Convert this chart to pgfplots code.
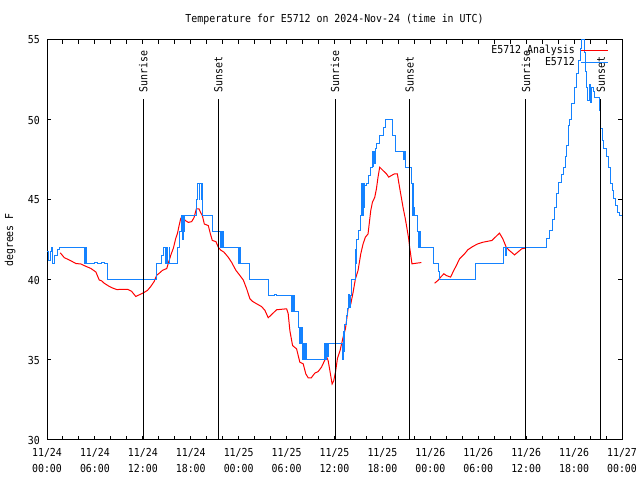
\documentclass[border=0pt]{standalone}
\usepackage{pgfplots}
\pgfplotsset{compat=1.18}
\usepackage{fontspec}
\newfontfamily\gp[FakeStretch=0.9]{DejaVu Sans Mono}
\newcommand\gpf{\gp\fontsize{11bp}{16bp}\selectfont}
\definecolor{obsblue}{RGB}{20,130,255}

\begin{document}
\begin{tikzpicture}
\path[use as bounding box] (0,0) rectangle (640bp,480bp);
\begin{axis}[
  at={(47bp,40bp)}, anchor=south west,
  scale only axis, width=575bp, height=400bp,
  xmin=0, xmax=72, ymin=30, ymax=55,
  xtick={0,6,...,72}, minor xtick={0,2,...,72},
  xticklabels={{11/24\\00:00},{11/24\\06:00},{11/24\\12:00},{11/24\\18:00},
    {11/25\\00:00},{11/25\\06:00},{11/25\\12:00},{11/25\\18:00},
    {11/26\\00:00},{11/26\\06:00},{11/26\\12:00},{11/26\\18:00},{11/27\\00:00}},
  ytick={30,35,...,55},
  major tick length=4bp, minor tick length=4bp,
  every tick/.style={black, line width=1bp},
  axis line style={line width=1bp},
  /pgf/number format/assume math mode=true,
  xticklabel style={align=center, font=\gpf, anchor=north, inner sep=0pt, yshift=-8bp},
  yticklabel style={font=\gpf, anchor=east, inner sep=0pt, xshift=-7bp},
  every axis title/.style={at={(axis description cs:0.5,1)}, anchor=center, yshift=21bp, font=\gpf},
  title={Temperature for E5712 on 2024-Nov-24 (time in UTC)},
  every axis y label/.style={at={(axis description cs:-0.0643,0.5)}, rotate=90, anchor=center, font=\gpf},
  ylabel={degrees F},
  legend style={at={(axis description cs:1,1)}, anchor=north east, xshift=-13bp, yshift=-4bp,
    draw=none, fill=none, font=\gpf, inner sep=0pt, row sep=0.5bp, column sep=5bp,
    nodes={inner sep=1bp}},
  legend cell align=right, legend plot pos=right,
]
% analysis (red)
\addplot[red, line width=1bp,
  legend image code/.code={\draw[red, line width=1bp] (0bp,0bp) -- (27bp,0bp);}]
  coordinates {(1.66,41.7) (2.16,41.4) (2.99,41.2) (3.62,41.03) (4.25,41.0) (4.66,40.9)
  (5.5,40.72) (6.12,40.5) (6.54,40.0) (6.83,39.95) (7.16,39.8) (7.79,39.6) (8.2,39.5)
  (8.75,39.4) (9.45,39.42) (10.08,39.42) (10.58,39.3) (11.12,38.97) (11.66,39.1)
  (12.08,39.2) (12.58,39.35) (13.0,39.6) (13.41,39.9) (13.74,40.3) (14.0,40.4)
  (14.45,40.6) (15.0,40.72) (15.16,41.0) (15.5,41.55) (15.83,42.0) (16.12,42.6)
  (16.33,42.9) (16.54,43.4) (16.75,43.86) (17.08,43.86) (17.37,43.7) (17.7,43.6)
  (18.12,43.65) (18.41,43.9) (18.7,44.44) (19.04,44.44) (19.25,44.2) (19.45,44.03)
  (19.7,43.5) (20.2,43.4) (20.45,42.9) (20.7,42.47) (21.15,42.4) (21.45,42.05)
  (21.75,41.87) (22.16,41.74) (22.7,41.42) (23.12,41.1) (23.66,40.6) (24.16,40.28)
  (24.58,40.0) (25.0,39.45) (25.41,38.82) (25.75,38.66) (26.25,38.51) (26.87,38.34)
  (27.29,38.1) (27.7,37.64) (28.12,37.84) (28.75,38.14) (30.0,38.2) (30.2,37.9)
  (30.41,36.84) (30.75,35.9) (31.25,35.7) (31.66,34.86) (32.08,34.76) (32.41,34.13)
  (32.7,33.89) (33.1,33.89) (33.54,34.18) (33.95,34.28) (34.37,34.55) (34.66,34.86)
  (35.0,35.2) (35.2,34.97) (35.4,34.4) (35.7,33.5) (35.9,33.7) (36.14,34.3)
  (36.37,35.1) (36.7,35.6) (37.08,36.43) (37.37,36.95) (37.7,38.2) (38.04,38.5)
  (38.33,39.24) (38.62,40.07) (38.95,40.6) (39.29,41.64) (39.58,42.26) (39.87,42.68)
  (40.2,42.88) (40.54,44.34) (40.75,44.86) (41.04,45.17) (41.25,45.7) (41.45,46.43)
  (41.66,47.05) (42.08,46.84) (42.5,46.64) (42.79,46.43) (43.12,46.53) (43.54,46.64)
  (43.87,46.64) (44.04,46.11) (44.29,45.38) (44.58,44.55) (44.87,43.82) (45.12,43.09)
  (45.29,42.57) (45.41,42.05) (45.7,41.01) (46.25,41.05) (46.87,41.09)};
\addlegendentry{E5712 Analysis}
\addplot[red, line width=1bp, forget plot]
  coordinates {(48.54,39.8) (48.95,39.97) (49.37,40.22) (49.7,40.39) (50.0,40.28)
  (50.54,40.18) (50.83,40.49) (51.25,40.9) (51.66,41.32) (52.29,41.64) (52.7,41.89)
  (53.33,42.1) (53.95,42.26) (54.58,42.36) (55.7,42.47) (56.66,42.93) (57.08,42.57)
  (57.5,42.05) (57.91,41.84) (58.54,41.57) (58.95,41.74) (59.45,41.95) (59.97,42.0)};
% observations (blue)
\addplot[obsblue, line width=1bp, const plot,
  legend image code/.code={\draw[obsblue, line width=1bp] (0bp,0bp) -- (27bp,0bp);}]
  coordinates {(0.0,41.8) (0.25,41.2) (0.45,41.8) (0.6,42.0) (0.75,41.0) (1.0,41.5)
  (1.3,41.9) (1.6,42.0) (4.75,41.0) (4.82,42.0) (4.9,41.0) (6.0,41.1) (6.3,41.0)
  (6.8,41.1) (7.2,41.0) (7.6,40.0) (13.7,41.0) (14.3,41.5) (14.55,42.0) (14.8,41.0)
  (14.95,42.0) (15.15,41.0) (15.3,42.0) (15.4,41.0) (16.3,42.0) (16.6,43.0) (16.8,44.0)
  (16.95,42.5) (17.05,44.0) (17.15,43.0) (17.25,44.0) (18.7,45.0) (18.9,46.0) (19.05,45.0)
  (19.15,46.0) (19.3,45.0) (19.35,46.0) (19.5,44.0) (20.75,43.0) (21.7,42.0) (21.8,43.0)
  (21.95,42.0) (22.05,43.0) (22.15,42.0) (24.0,41.0) (24.1,42.0) (24.2,41.0) (25.4,40.0)
  (27.7,39.0) (28.5,39.1) (28.7,39.0) (30.6,38.0) (30.7,39.0) (30.85,38.0) (30.95,39.0)
  (31.05,38.0) (31.5,37.0) (31.6,36.0) (31.7,37.0) (31.85,36.0) (31.95,37.0) (32.05,35.0)
  (32.15,36.0) (32.3,35.0) (32.35,36.0) (32.45,35.0) (34.8,36.0) (34.9,35.0) (35.05,36.0)
  (35.15,35.2) (35.3,36.0) (37.0,35.0) (37.1,36.8) (37.2,35.5) (37.3,37.2) (37.45,37.8)
  (37.6,38.2) (37.75,39.1) (37.85,38.3) (37.95,39.0) (38.1,40.0) (38.6,41.9) (38.7,41.0)
  (38.8,42.5) (39.0,43.1) (39.3,44.0) (39.4,46.0) (39.5,44.0) (39.6,46.0) (39.7,44.5)
  (39.8,45.9) (40.0,46.0) (40.3,46.5) (40.5,47.0) (40.7,48.0) (40.8,47.1) (40.9,48.0)
  (41.0,47.3) (41.1,48.2) (41.3,48.5) (41.6,49.0) (42.1,49.5) (42.4,50.0) (43.3,49.0)
  (43.6,48.0) (44.7,47.5) (44.8,48.0) (44.9,47.0) (45.6,46.0) (45.75,44.0) (45.85,46.0)
  (45.95,44.5) (46.05,44.0) (46.4,43.0) (46.55,42.0) (46.65,43.0) (46.75,42.0)
  (48.45,41.0) (49.0,40.5) (49.1,40.0) (53.6,41.0) (57.2,42.0) (57.35,41.5) (57.5,42.0)
  (62.55,42.6) (62.9,43.1) (63.3,43.8) (63.6,44.55) (63.85,45.4) (64.1,46.1) (64.4,46.6)
  (64.7,47.05) (64.9,47.7) (65.1,48.4) (65.3,49.65) (65.45,50.0) (65.65,51.0) (66.1,52.0)
  (66.35,52.9) (66.55,53.7) (66.75,54.45) (66.95,55.0) (67.3,54.2) (67.4,53.0)
  (67.55,52.0) (67.7,51.2) (67.95,52.2) (68.05,51.1) (68.15,52.0) (68.4,51.8)
  (68.6,51.4) (69.2,50.6) (69.3,49.45) (69.5,48.7) (69.7,48.2) (70.0,47.7) (70.35,47.05)
  (70.55,46.0) (70.75,45.6) (70.95,45.1) (71.2,44.65) (71.4,44.2) (71.7,44.0) (72.0,44.0)};
\addlegendentry{E5712}
% sunrise / sunset markers
\addplot[black, line width=1bp, forget plot] coordinates {(12.07,30) (12.07,51.3)};
\addplot[black, line width=1bp, forget plot] coordinates {(21.45,30) (21.45,51.3)};
\addplot[black, line width=1bp, forget plot] coordinates {(36.08,30) (36.08,51.3)};
\addplot[black, line width=1bp, forget plot] coordinates {(45.4,30) (45.4,51.3)};
\addplot[black, line width=1bp, forget plot] coordinates {(59.97,30) (59.97,51.3)};
\addplot[black, line width=1bp, forget plot] coordinates {(69.35,30) (69.35,51.3)};
\node[rotate=90, anchor=west, font=\gpf, inner sep=0pt] at (axis cs:12.07,51.72) {Sunrise};
\node[rotate=90, anchor=west, font=\gpf, inner sep=0pt] at (axis cs:21.45,51.72) {Sunset};
\node[rotate=90, anchor=west, font=\gpf, inner sep=0pt] at (axis cs:36.08,51.72) {Sunrise};
\node[rotate=90, anchor=west, font=\gpf, inner sep=0pt] at (axis cs:45.4,51.72) {Sunset};
\node[rotate=90, anchor=west, font=\gpf, inner sep=0pt] at (axis cs:59.97,51.72) {Sunrise};
\node[rotate=90, anchor=west, font=\gpf, inner sep=0pt] at (axis cs:69.35,51.72) {Sunset};
\end{axis}
\end{tikzpicture}
\end{document}
